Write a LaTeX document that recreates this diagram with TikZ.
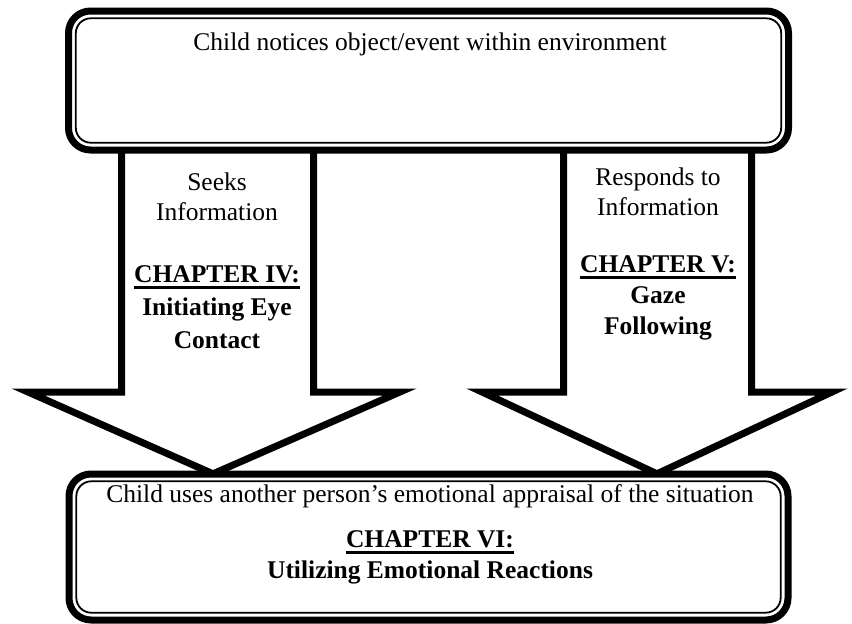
\documentclass[tikz,border=0pt]{standalone}
\usepackage{fontspec}
\setmainfont{Liberation Serif}
\usetikzlibrary{positioning}

\newcommand{\chapul}[1]{\setbox0=\hbox{#1}\rlap{\rule[-6.5pt]{\wd0}{2.5pt}}\box0}

\begin{document}
\begin{tikzpicture}[x=1pt,y=-1pt,
  outerbox/.style={draw, line width=7pt, rounded corners=22pt, fill=white, minimum width=720pt, inner sep=0pt},
  innerbox/.style={draw, line width=1.8pt, rounded corners=15pt},
  shaft/.style={draw, line width=7pt, fill=white, line join=miter},
  lbl/.style={font=\fontsize{25.5}{30}\selectfont, align=center, inner sep=0pt, anchor=base},
  boldlbl/.style={lbl, font=\fontsize{25.5}{31}\selectfont\bfseries}]
\useasboundingbox (0,0) rectangle (852,624);
% boxes (drawn first as anchors only)
\path (428.5,80.5) node[minimum width=720pt, minimum height=139pt, inner sep=0pt] (notice) {};
\path (428.5,547) node[minimum width=719pt, minimum height=146pt, inner sep=0pt] (uses) {};
% block arrows
\draw[shaft] (121.5,0 |- notice.south) -- (121.5,392) -- (28,392) -- (213,0 |- uses.north)
  -- (400,392) -- (313.5,392) -- (313.5,0 |- notice.south);
\draw[shaft] (563.5,0 |- notice.south) -- (563.5,392) -- (482,392) -- (657,0 |- uses.north)
  -- (832,392) -- (751.5,392) -- (751.5,0 |- notice.south);
% double framed boxes
\node[outerbox, minimum height=139pt] at (notice) {};
\draw[innerbox] ([shift={(7.5,7.5)}]notice.north west) rectangle ([shift={(-7.5,-7.5)}]notice.south east);
\node[outerbox, minimum width=719pt, minimum height=146pt] at (uses) {};
\draw[innerbox] ([shift={(7.5,7.5)}]uses.north west) rectangle ([shift={(-7.5,-7.5)}]uses.south east);
% texts (base = last line)
\node[lbl] (noticetxt) at (430,50) {Child notices object/event within environment};
\node[lbl] (seektxt) at (217,220) {Seeks\\Information};
\node[boldlbl] (ch4) at (217,348) {\chapul{CHAPTER IV:}\\[2pt]Initiating Eye\\[2pt]Contact};
\node[lbl] (resptxt) at (658,215) {Responds to\\Information};
\node[boldlbl] (ch5) at (658,334) {\chapul{CHAPTER V:}\\Gaze\\Following};
\node[lbl] (usestxt) at (430,502) {Child uses another person’s emotional appraisal of the situation};
\node[boldlbl] (ch6) at (430,578) {\chapul{CHAPTER VI:}\\Utilizing Emotional Reactions};
\end{tikzpicture}
\end{document}
